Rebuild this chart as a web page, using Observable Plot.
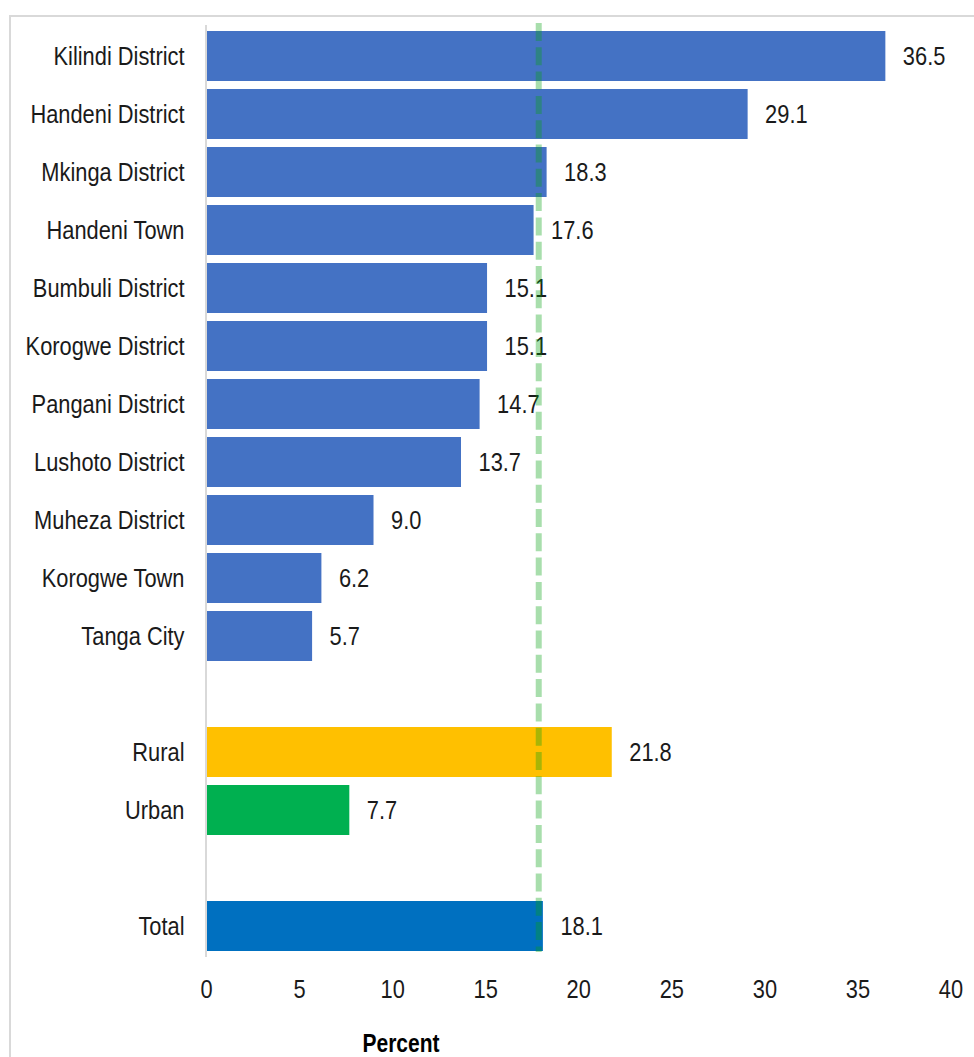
<!DOCTYPE html>
<html>
<head>
<meta charset="utf-8">
<script src="https://cdn.jsdelivr.net/npm/d3@7"></script>
<script src="https://cdn.jsdelivr.net/npm/@observablehq/plot@0.6"></script>
<style>
  html, body { margin: 0; padding: 0; background: #fff; }
  #wrap { position: relative; width: 974px; height: 1057px; overflow: hidden; }
  #frame { position: absolute; left: 9px; top: 15px; width: 1000px; height: 1100px; border: 2px solid #d9d9d9; box-sizing: border-box; }
  #chart { position: absolute; left: 0; top: 0; }
  #xlabel { position: absolute; left: 401px; top: 1031px; transform: translateX(-50%) scaleX(0.84);
    font-family: 'Liberation Sans', Arial, sans-serif; font-weight: bold; font-size: 25px; line-height: 25px; color: #000; white-space: nowrap; }
</style>
</head>
<body>
<div id="wrap">
  <div id="frame"></div>
  <div id="chart"></div>
  <div id="xlabel">Percent</div>
</div>
<script>
const districts = ["Kilindi District", "Handeni District", "Mkinga District", "Handeni Town", "Bumbuli District",
  "Korogwe District", "Pangani District", "Lushoto District", "Muheza District", "Korogwe Town", "Tanga City"];
const districtValues = [36.5, 29.1, 18.3, 17.6, 15.1, 15.1, 14.7, 13.7, 9.0, 6.2, 5.7];
const areas = ["Rural", "Urban"];
const areaValues = [21.8, 7.7];
const totalName = "Total";
const totalValue = 18.1;
const gaps = ["gap1", "gap2"];
const xTicks = [0, 5, 10, 15, 20, 25, 30, 35, 40];
const refLine = [17.85];

const districtColor = "#4472C4";
const areaColors = ["#FFC000", "#00B050"];
const totalColor = "#0070C0";

const data = [
  ...districts.map((n, i) => ({name: n, value: districtValues[i], color: districtColor})),
  ...areas.map((n, i) => ({name: n, value: areaValues[i], color: areaColors[i]})),
  {name: totalName, value: totalValue, color: totalColor}
];
const yDomain = [...districts, gaps[0], ...areas, gaps[1], totalName];

const chart = Plot.plot({
  width: 974,
  height: 1010,
  marginTop: 25,
  marginBottom: 53,
  marginLeft: 206,
  marginRight: 23.5,
  style: {fontFamily: "'Liberation Sans', Arial, sans-serif", fontSize: "26px", background: "transparent", color: "#000"},
  x: {domain: [0, 40], ticks: xTicks},
  y: {domain: yDomain, paddingInner: 0.14, paddingOuter: 0.07},
  marks: [
    Plot.barX(data, {x: "value", y: "name", fill: d => d.color}),
    Plot.ruleX([0], {stroke: "#d9d9d9", strokeWidth: 2, dx: -0.5}),
    Plot.text(data, {x: "value", y: "name", text: d => d.value.toFixed(1), textAnchor: "start", dx: 17, fill: "#1a1a1a"}),
    Plot.ruleX(refLine, {stroke: "#06a010", strokeOpacity: 0.35, strokeWidth: 6, strokeDasharray: "18,6.3", insetTop: -2, insetBottom: 5}),
    Plot.axisY({tickSize: 0, tickPadding: 22, tickFormat: d => gaps.includes(d) ? "" : d, label: null, fill: "#1a1a1a"}),
    Plot.axisX({ticks: xTicks, tickSize: 0, tickPadding: 22, label: null, fill: "#1a1a1a"})
  ]
});
// emulate a narrow (condensed) face: squeeze each text horizontally around its anchor
chart.querySelectorAll("text").forEach(t => {
  const tr = t.getAttribute("transform") || "";
  t.setAttribute("transform", `${tr} scale(0.84,1)`);
});
document.getElementById("chart").appendChild(chart);
</script>
</body>
</html>
